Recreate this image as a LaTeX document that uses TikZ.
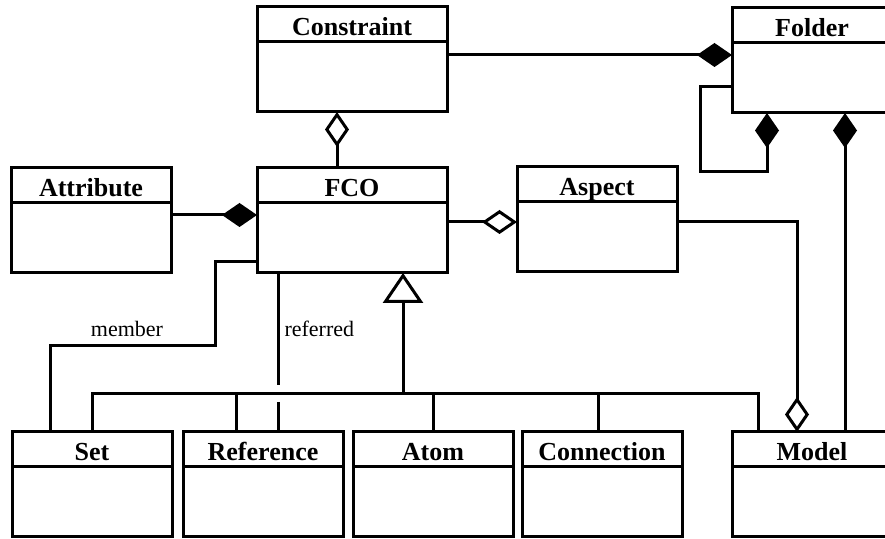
\documentclass[tikz,border=0pt]{standalone}
\usepackage{fontspec}
\setmainfont{Liberation Serif}
\usetikzlibrary{arrows.meta}

\begin{document}
\begin{tikzpicture}[x=0.5pt,y=-0.5pt,line width=1.5pt,
    umlclass/.style={draw, rectangle, anchor=north west, inner sep=0pt, outer sep=0pt,
      minimum width=#1, minimum height=52.5pt,
      path picture={\draw ([yshift=-17.5pt]path picture bounding box.north west)
        -- ([yshift=-17.5pt]path picture bounding box.north east);}},
    umlclass/.default=80pt,
    boxtitle/.style={label={[anchor=base, yshift=-14.5pt, inner sep=0pt,
      font=\fontsize{13}{15}\selectfont\bfseries]north:#1}},
    comp/.style={-{Diamond[length=17.5pt,width=12pt]}},
    aggr/.style={-{Diamond[open,length=17.5pt,width=12pt]}},
    inh/.style={-{Triangle[open,length=15pt,width=20pt]}},
    role/.style={inner sep=0pt, font=\fontsize{11}{13}\selectfont}]
        \useasboundingbox (0,0) rectangle (885,539);
        \clip (0,0) rectangle (885,539);

        % the classes
        \node[umlclass=95pt, boxtitle=Constraint] (constraint) at (257,7) {};
        \node[umlclass, boxtitle=Folder] (folder) at (732,8) {};
        \node[umlclass, boxtitle=Attribute] (attribute) at (11,168) {};
        \node[umlclass=95pt, boxtitle=FCO] (fco) at (257,168) {};
        \node[umlclass, boxtitle=Aspect] (aspect) at (517,167) {};
        \foreach \n/\t/\x in {set/Set/12, reference/Reference/183, atom/Atom/353,
                              connection/Connection/522, model/Model/732}
            \node[umlclass, boxtitle=\t] (\n) at (\x,432) {};

        % containment in folders
        \draw[comp] (constraint.east |- 0,55) -- (folder.west |- 0,55);
        \draw[comp] (folder.west |- 0,87) -- (700,87) -- (700,172) -- (767,172)
              -- (folder.south -| 767,0);
        \draw[comp] (model.north -| 845,0) -- (folder.south -| 845,0);

        % parts of an FCO
        \draw[aggr] (fco.north -| 337,0) -- (constraint.south -| 337,0);
        \draw[comp] (attribute.east |- 0,215) -- (fco.west |- 0,215);
        \draw[aggr] (fco.east |- 0,222) -- (aspect.west |- 0,222);
        \draw[aggr] (aspect.east |- 0,222) -| (model.north -| 797,0);

        % inheritance
        \draw[inh] (403,394) -- (fco.south -| 403,0);
        \draw (set.north -| 92,0) |- (758,394) -- (model.north -| 758,0);
        \foreach \n/\x in {reference/236, atom/433, connection/598}
            \draw (\n.north -| \x,0) -- (\x,394);

        % roles
        \draw (fco.west |- 0,262) -- (215,262) -- (215,346) -- (50,346)
              -- (set.north -| 50,0);
        \node[role, anchor=base] (memberlbl) at (127,337) {member};
        \draw (fco.south -| 278,0) -- (278,385);
        \draw (278,402) -- (reference.north -| 278,0);
        \node[role, anchor=base west] (referredlbl) at (283,337) {referred};
\end{tikzpicture}
\end{document}
